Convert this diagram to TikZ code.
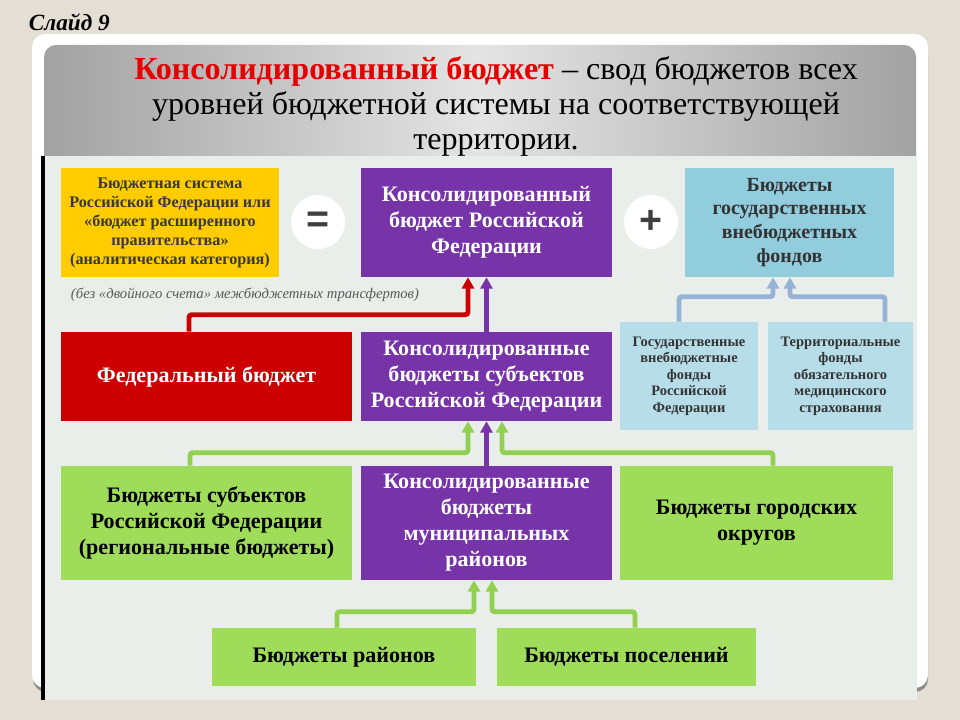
\documentclass[tikz,border=0pt]{standalone}
\usepackage{fontspec}
\setmainfont{Liberation Serif}
\newfontfamily\signfont{Liberation Sans}
\usetikzlibrary{arrows.meta,positioning,shapes.geometric}
\definecolor{slidebg}{RGB}{228,222,212}
\definecolor{contentbg}{RGB}{234,238,234}
\definecolor{headdark}{RGB}{162,162,162}
\definecolor{headlight}{RGB}{228,228,228}
\definecolor{titlered}{RGB}{230,0,0}
\definecolor{budgetyellow}{RGB}{255,204,0}
\definecolor{budgetpurple}{RGB}{118,52,168}
\definecolor{budgetred}{RGB}{204,0,0}
\definecolor{fundblue}{RGB}{146,205,221}
\definecolor{fundlight}{RGB}{183,222,232}
\definecolor{budgetgreen}{RGB}{158,220,90}
\definecolor{linegreen}{RGB}{146,208,80}
\definecolor{lineblue}{RGB}{149,179,215}
\newcommand\PX{0.025cm}
\tikzset
{
    box/.style        = {rectangle, align=center, inner sep=2pt, font=\bfseries\fontsize{15.7}{18.5}\selectfont},
    yellowbox/.style  = {box, fill=budgetyellow, text=black!78, font=\bfseries\fontsize{11.5}{13.5}\selectfont},
    purplebox/.style  = {box, fill=budgetpurple, text=white},
    redbox/.style     = {box, fill=budgetred, text=white},
    fundbox/.style    = {box, fill=fundblue, text=black!80, font=\bfseries\fontsize{14.2}{17}\selectfont},
    fundsub/.style    = {box, fill=fundlight, text=black!80, font=\bfseries\fontsize{10.3}{11.7}\selectfont},
    greenbox/.style   = {box, fill=budgetgreen, text=black},
    sign/.style       = {circle, fill=white, minimum size=54*\PX, inner sep=0pt, text=black!75, font=\signfont\bfseries\fontsize{28}{28}\selectfont},
    flow/.style       = {line width=3.5pt, rounded corners=2pt, -{Triangle[width=8.5pt,length=8pt]}},
}

\begin{document}
\begin{tikzpicture}[x=0.025cm, y=-0.025cm]
   % slide background and panel
   \fill[slidebg] (0,0) rectangle (960,720);
   \useasboundingbox (0,0) rectangle (960,720);
   \fill[black!45, rounded corners=13*\PX] (33,40) rectangle (928,692);
   \fill[white, rounded corners=13*\PX] (32,34) rectangle (928,688);
   \shade[left color=headdark, right color=headdark, middle color=headlight]
      (44,156) [rounded corners=12*\PX] -- (44,45) -- (916,45) [sharp corners] -- (916,156) -- cycle;
   \fill[contentbg] (44,156) rectangle (917,700);
   \fill[black] (41,156) rectangle (44.5,700);

   \node (slide) [anchor=west, font=\bfseries\itshape\fontsize{16.5}{19}\selectfont] at (24,22) {Слайд 9};
   \node (title) [align=center, font=\fontsize{22.8}{24.9}\selectfont] at (496,106)
      {\textcolor{titlered}{\bfseries Консолидированный бюджет} – свод бюджетов всех\\
       уровней бюджетной системы на соответствующей\\
       территории.};

   % top row
   \node (yel)  [yellowbox, minimum width=218*\PX, minimum height=109*\PX] at (170,222.5)
      {Бюджетная система\\Российской Федерации или\\«бюджет расширенного\\правительства»\\(аналитическая категория)};
   \node (eq)   [sign] at (318,222) {=};
   \node (cons) [purplebox, minimum width=251*\PX, minimum height=109*\PX] at (486.5,222.5)
      {Консолидированный\\бюджет Российской\\Федерации};
   \node (plus) [sign] at (651,222) {+};
   \node (vnb)  [fundbox, minimum width=209*\PX, minimum height=109*\PX] at (789.5,222.5)
      {Бюджеты\\государственных\\внебюджетных\\фондов};
   \node (note) [anchor=west, text=black!65, font=\itshape\fontsize{10.45}{12}\selectfont] at (66,295)
      {(без «двойного счета» межбюджетных трансфертов)};

   % second row
   \node (fed)     [redbox, minimum width=291*\PX, minimum height=89*\PX] at (206.5,376.5) {Федеральный бюджет};
   \node (conssub) [purplebox, minimum width=251*\PX, minimum height=89*\PX] at (486.5,376.5)
      {Консолидированные\\бюджеты субъектов\\Российской Федерации};
   \node (gvf)     [fundsub, minimum width=138*\PX, minimum height=108*\PX] at (689,376)
      {Государственные\\внебюджетные\\фонды\\Российской\\Федерации};
   \node (tfoms)   [fundsub, minimum width=145*\PX, minimum height=108*\PX] at (840.5,376)
      {Территориальные\\фонды\\обязательного\\медицинского\\страхования};

   % third row
   \node (reg)     [greenbox, minimum width=291*\PX, minimum height=114*\PX] at (206.5,523)
      {Бюджеты субъектов\\Российской Федерации\\(региональные бюджеты)};
   \node (consmun) [purplebox, minimum width=251*\PX, minimum height=114*\PX] at (486.5,523)
      {Консолидированные\\бюджеты\\муниципальных\\районов};
   \node (gor)     [greenbox, minimum width=273*\PX, minimum height=114*\PX] at (756.5,523)
      {Бюджеты городских\\округов};

   % bottom row
   \node (ray) [greenbox, minimum width=264*\PX, minimum height=58*\PX] at (344,657) {Бюджеты районов};
   \node (pos) [greenbox, minimum width=259*\PX, minimum height=58*\PX] at (626.5,657) {Бюджеты поселений};

   % connectors
   \draw[flow, budgetred]    ([xshift=-17.5*\PX]fed.north) -- ++(0,-17) -| ([xshift=-18.5*\PX]cons.south);
   \draw[flow, budgetpurple] (conssub.north) -- (cons.south);
   \draw[flow, lineblue]     ([xshift=-10*\PX]gvf.north) -- ++(0,-25) -| ([xshift=-16.5*\PX]vnb.south);
   \draw[flow, lineblue]     ([xshift=44.5*\PX]tfoms.north) -- ++(0,-25) -| ([xshift=0.5*\PX]vnb.south);
   \draw[flow, linegreen]    ([xshift=-16.5*\PX]reg.north) -- ++(0,-13) -| ([xshift=-18.5*\PX]conssub.south);
   \draw[flow, budgetpurple] (consmun.north) -- (conssub.south);
   \draw[flow, linegreen]    ([xshift=16.5*\PX]gor.north) -- ++(0,-13) -| ([xshift=15.5*\PX]conssub.south);
   \draw[flow, linegreen]    ([xshift=-7*\PX]ray.north) -- ++(0,-16) -| ([xshift=-12.5*\PX]consmun.south);
   \draw[flow, linegreen]    ([xshift=8.5*\PX]pos.north) -- ++(0,-16) -| ([xshift=5.5*\PX]consmun.south);
\end{tikzpicture}
\end{document}
